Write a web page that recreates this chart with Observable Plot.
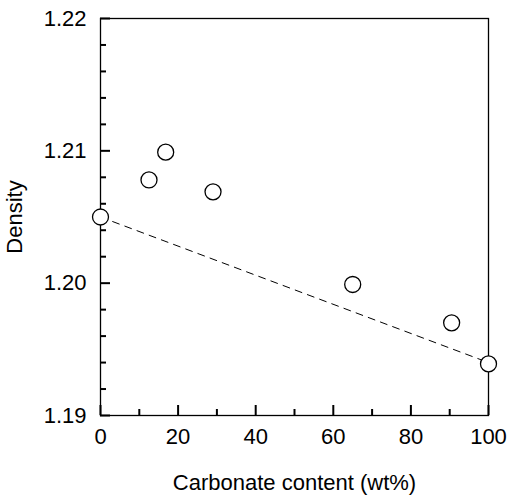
<!DOCTYPE html>
<html><head><meta charset="utf-8">
<script src="https://cdn.jsdelivr.net/npm/d3@7"></script>
<script src="https://cdn.jsdelivr.net/npm/@observablehq/plot@0.6"></script>
<style>
body{margin:0;background:#fff}
svg{font-family:"Liberation Sans",Arial,sans-serif}
</style>
</head><body><div id="chart"></div>
<script>
const carbonate = [0, 12.5, 16.8, 29, 65, 90.5, 100];
const density = [1.205, 1.2078, 1.2099, 1.2069, 1.1999, 1.1970, 1.1939];
const trendX = [0, 100];
const trendY = [1.205, 1.194];
const xTicks = [0, 20, 40, 60, 80, 100];
const xMinor = [10, 30, 50, 70, 90];
const yTicks = [1.19, 1.20, 1.21, 1.22];
const yMinor = [1.192, 1.194, 1.196, 1.198, 1.202, 1.204, 1.206, 1.208, 1.212, 1.214, 1.216, 1.218];

const points = carbonate.map((c, i) => ({c, d: density[i]}));
const trend = trendX.map((c, i) => ({c, d: trendY[i]}));

const W = 508, H = 495, ML = 100, MR = 20, MT = 18, MB = 80;
const FW = W - ML - MR, FH = H - MT - MB;
const X0 = 0, X1 = 100, Y0 = 1.19, Y1 = 1.22;
const majorPx = 10, minorPx = 6;
const dxU = px => px / FW * (X1 - X0);
const dyU = px => px / FH * (Y1 - Y0);

const chart = Plot.plot({
  width: W,
  height: H,
  marginLeft: ML,
  marginRight: MR,
  marginTop: MT,
  marginBottom: MB,
  style: {fontSize: "22px", fontFamily: "Liberation Sans, Arial, sans-serif", color: "#000", background: "#fff"},
  x: {domain: [X0, X1], label: null},
  y: {domain: [Y0, Y1], label: null},
  marks: [
    Plot.ruleX(xTicks, {x: d => d, y1: Y0, y2: Y0 + dyU(majorPx), stroke: "#000", strokeWidth: 2}),
    Plot.ruleX(xMinor, {x: d => d, y1: Y0, y2: Y0 + dyU(minorPx), stroke: "#000", strokeWidth: 2}),
    Plot.ruleY(yTicks, {y: d => d, x1: X0, x2: X0 + dxU(majorPx), stroke: "#000", strokeWidth: 2}),
    Plot.ruleY(yMinor, {y: d => d, x1: X0, x2: X0 + dxU(minorPx), stroke: "#000", strokeWidth: 2}),
    Plot.frame({stroke: "#000", strokeWidth: 1.3}),
    Plot.axisX(xTicks, {tickSize: 0, tickPadding: 13, fill: "#000", fontSize: 22,
      label: "Carbonate content (wt%)", labelAnchor: "center", labelArrow: "none", labelOffset: 74}),
    Plot.axisY(yTicks, {tickSize: 0, tickPadding: 14, tickFormat: d3.format(".2f"), fill: "#000", fontSize: 22,
      label: "Density", labelAnchor: "center", labelArrow: "none", labelOffset: 94}),
    Plot.line(trend, {x: "c", y: "d", stroke: "#000", strokeWidth: 1, strokeDasharray: "7,6"}),
    Plot.dot(points, {x: "c", y: "d", r: 8, stroke: "#000", strokeWidth: 1.3, fill: "#fff"})
  ]
});
document.getElementById("chart").appendChild(chart);
</script>
</body></html>
